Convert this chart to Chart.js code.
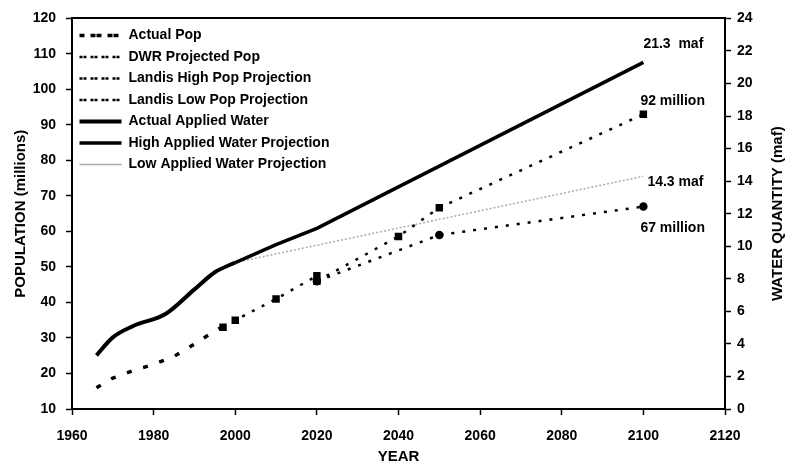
<!DOCTYPE html>
<html>
<head>
<meta charset="utf-8">
<script src="https://cdn.jsdelivr.net/npm/chart.js@4.4.1/dist/chart.umd.min.js"></script>
<style>
  html, body { margin: 0; padding: 0; background: #fff; }
</style>
</head>
<body>
<canvas id="chart" width="787" height="466"></canvas>
<script>
// population, millions (left axis)
const actualPopYears = [1966, 1970, 1975, 1980, 1985, 1990, 1995, 2000];
const actualPop = [16, 18.7, 20.8, 22.6, 24.8, 28.3, 32, 35];
const dwrYears = [1997, 2000, 2010, 2020];
const dwrPop = [33, 35, 41, 47.5];
const highPopYears = [2020, 2040, 2050, 2100];
const highPop = [46, 58.6, 66.7, 93];
const lowPopYears = [2020, 2050, 2100];
const lowPop = [46, 59, 67];

// applied water, maf (right axis)
const actualWaterYears = [1966, 1970, 1975, 1983, 1990, 1995, 2000];
const actualWater = [3.3, 4.4, 5.1, 5.85, 7.35, 8.4, 9.0];
const highWaterYears = [2000, 2010, 2020, 2100];
const highWater = [9.0, 10.1, 11.1, 21.3];
const lowWaterYears = [2000, 2100];
const lowWater = [9.0, 14.3];

// end labels
const noteText = ['21.3  maf', '92 million', '14.3 maf', '67 million'];
const noteYear = [2100, 2100, 2100, 2100];
const noteValue = [21.3, 93, 14.3, 67];
const noteAxis = ['y2', 'y', 'y2', 'y'];

const rightTitle = 'WATER QUANTITY (maf)';

const pts = (xs, ys) => xs.map((x, i) => ({ x: x, y: ys[i] }));

const FONT = "'Liberation Sans', Arial, sans-serif";
Chart.defaults.color = '#000';
Chart.defaults.font.family = FONT;
Chart.defaults.font.weight = 'bold';
Chart.defaults.font.size = 14;

// text next to the line ends + right axis title (reads bottom to top like the left one)
const endNotes = {
  id: 'endNotes',
  afterDatasetsDraw(chart) {
    const ctx = chart.ctx;
    const shift = [[0, -18], [-3, -13], [4, 6], [-3, 22]];
    ctx.save();
    ctx.font = 'bold 14px ' + FONT;
    ctx.fillStyle = '#000';
    ctx.textBaseline = 'middle';
    ctx.textAlign = 'left';
    noteText.forEach((t, i) => {
      const x = chart.scales.x.getPixelForValue(noteYear[i]) + shift[i][0];
      const y = chart.scales[noteAxis[i]].getPixelForValue(noteValue[i]) + shift[i][1];
      ctx.fillText(t, x, y);
    });
    const ca = chart.chartArea;
    ctx.translate(chart.width - 9, (ca.top + ca.bottom) / 2);
    ctx.rotate(-Math.PI / 2);
    ctx.font = 'bold 15px ' + FONT;
    ctx.textAlign = 'center';
    ctx.fillText(rightTitle, 0, 0);
    ctx.restore();
  }
};

new Chart(document.getElementById('chart'), {
  type: 'line',
  data: {
    datasets: [
      {
        label: 'Actual Pop',
        data: pts(actualPopYears, actualPop),
        yAxisID: 'y',
        borderColor: '#000', backgroundColor: '#000',
        borderWidth: 3.5, borderDash: [5, 12],
        pointRadius: 0
      },
      {
        label: 'DWR Projected Pop',
        data: pts(dwrYears, dwrPop),
        yAxisID: 'y',
        borderColor: '#000', backgroundColor: '#000',
        borderWidth: 2.5, borderDash: [3, 8],
        pointStyle: 'rect', pointRadius: 3.5
      },
      {
        label: 'Landis High Pop Projection',
        data: pts(highPopYears, highPop),
        yAxisID: 'y',
        borderColor: '#000', backgroundColor: '#000',
        borderWidth: 2.5, borderDash: [3, 8],
        pointStyle: 'rect', pointRadius: 3.5
      },
      {
        label: 'Landis Low Pop Projection',
        data: pts(lowPopYears, lowPop),
        yAxisID: 'y',
        borderColor: '#000', backgroundColor: '#000',
        borderWidth: 2.5, borderDash: [3, 8],
        pointStyle: 'circle', pointRadius: 3
      },
      {
        label: 'Actual Applied Water',
        data: pts(actualWaterYears, actualWater),
        yAxisID: 'y2',
        borderColor: '#000', backgroundColor: '#000',
        borderWidth: 4, cubicInterpolationMode: 'monotone',
        pointRadius: 0
      },
      {
        label: 'High Applied Water Projection',
        data: pts(highWaterYears, highWater),
        yAxisID: 'y2',
        borderColor: '#000', backgroundColor: '#000',
        borderWidth: 3.5,
        pointRadius: 0
      },
      {
        label: 'Low Applied Water Projection',
        data: pts(lowWaterYears, lowWater),
        yAxisID: 'y2',
        borderColor: '#aaa', backgroundColor: '#aaa',
        borderWidth: 1.5, borderDash: [2, 2],
        pointRadius: 0
      }
    ]
  },
  options: {
    responsive: false,
    animation: false,
    layout: { padding: { top: 13 } },
    plugins: {
      tooltip: { enabled: false },
      legend: {
        position: 'chartArea',
        align: 'start',
        title: { display: true, text: ' ', padding: 0, font: { size: 14, lineHeight: 1.5 } },
        labels: {
          boxWidth: 42,
          boxHeight: 0,
          padding: 7.5,
          color: '#000',
          font: { size: 14, weight: 'bold' }
        }
      }
    },
    scales: {
      x: {
        type: 'linear',
        min: 1960, max: 2120,
        ticks: { stepSize: 20, padding: 13, callback: v => String(v) },
        grid: { display: true, drawOnChartArea: false, tickLength: 6, color: '#000', tickWidth: 1.5 },
        border: { color: '#000', width: 2 },
        title: { display: true, text: 'YEAR', font: { size: 15, weight: 'bold' }, padding: { top: 0, bottom: 0 } },
        afterFit: s => { s.height = 57; }
      },
      xt: {
        type: 'linear',
        position: 'top',
        min: 1960, max: 2120,
        ticks: { display: false },
        grid: { display: false },
        border: { display: true, color: '#000', width: 2 },
        afterFit: s => { s.height = 0; }
      },
      y: {
        position: 'left',
        min: 10, max: 120,
        ticks: { stepSize: 10, padding: 10 },
        grid: { drawOnChartArea: false, tickLength: 6, color: '#000', tickWidth: 1.5 },
        border: { color: '#000', width: 2 },
        title: { display: true, text: 'POPULATION (millions)', font: { size: 15, weight: 'bold' }, padding: { top: 12, bottom: 0 } },
        afterFit: s => { s.width = 72; }
      },
      y2: {
        position: 'right',
        min: 0, max: 24,
        ticks: { stepSize: 2, padding: 6 },
        grid: { drawOnChartArea: false, tickLength: 6, color: '#000', tickWidth: 1.5 },
        border: { color: '#000', width: 2 },
        afterFit: s => { s.width = 62; }
      }
    }
  },
  plugins: [endNotes]
});
</script>
</body>
</html>
